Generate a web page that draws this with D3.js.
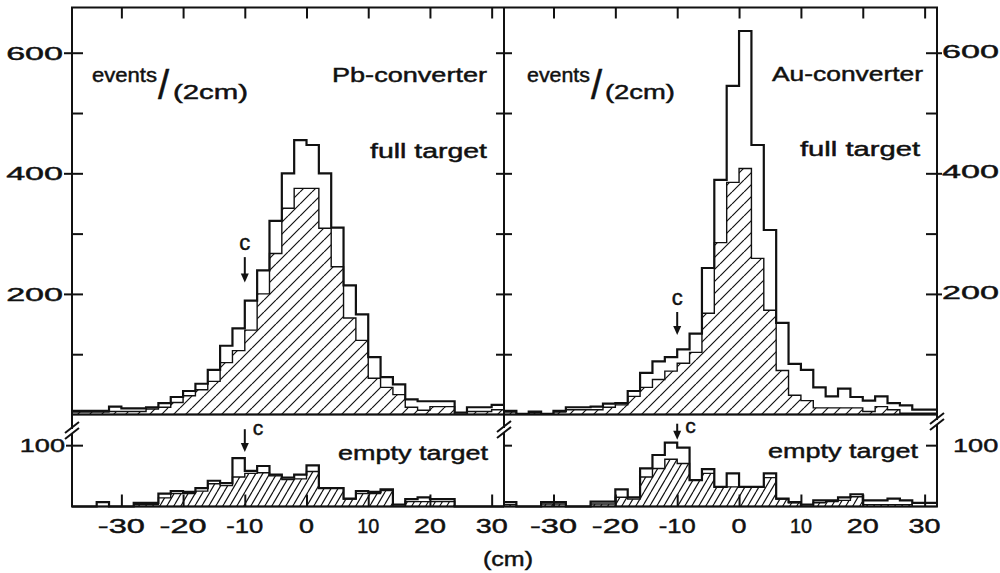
<!DOCTYPE html>
<html>
<head>
<meta charset="utf-8">
<title>Vertex distributions, Pb and Au converter</title>
<script src="https://d3js.org/d3.v7.min.js"></script>
<style>
  body { margin: 0; background: #fff; }
  svg { display: block; font-family: "Liberation Sans", Arial, sans-serif; }
  .frame { fill: none; stroke: #111; stroke-width: 2px; }
  .open { fill: none; stroke: #111; stroke-width: 2.2px; }
  .tick line { stroke: #111; stroke-width: 2px; }
  text { fill: #111; stroke: #111; stroke-width: 0.45px; }
</style>
</head>
<body>
<div id="chart"></div>
<script>
// 35 bins of 2 cm per panel, first bin starts at -38 cm
const binStart = -38;
const binWidth = 2;
const nBins = 35;
const xTicks = [-30, -20, -10, 0, 10, 20, 30];
const yTicksFull = [100, 200, 300, 400, 500, 600];
const yLabelsFull = [200, 400, 600];
const yTicksEmpty = [100];

// full target, Pb-converter (open outline and hatched part)
const pbFullOpen = [6, 6, 6, 13, 10, 10, 12, 19, 29, 39, 51, 74, 114, 143, 189, 239, 321, 400, 455, 447,
                    400, 310, 214, 166, 95, 62, 50, 25, 22, 22, 22, 3, 12, 12, 16];
const pbFullHatched = [4, 4, 4, 5, 5, 5, 9, 12, 20, 31, 41, 55, 86, 106, 140, 200, 267, 342, 375, 375,
                       309, 245, 160, 123, 60, 45, 33, 12, 7, 13, 13, 0, 5, 5, 8];
// full target, Au-converter
const auFullOpen = [6, 1, 5, 1, 6, 12, 12, 13, 18, 19, 39, 69, 88, 95, 108, 134, 243, 389, 545, 636,
                    447, 306, 152, 84, 74, 45, 30, 43, 29, 23, 30, 19, 15, 8, 8];
const auFullHatched = [4, 0, 3, 0, 4, 8, 8, 8, 12, 16, 30, 45, 58, 72, 85, 103, 168, 285, 385, 408,
                       259, 173, 73, 32, 23, 11, 11, 11, 11, 5, 13, 8, 2, 2, 2];
// empty target
const pbEmptyOpen = [0, 0, 7, 0, 0, 6, 6, 21, 25, 24, 30, 42, 38, 79, 58, 66, 52, 47, 52, 67,
                     30, 30, 13, 25, 24, 28, 3, 12, 15, 12, 12, 0, 0, 0, 0];
const pbEmptyHatched = [0, 0, 0, 0, 0, 3, 3, 14, 21, 21, 25, 37, 34, 48, 54, 55, 50, 44, 45, 57,
                        30, 30, 12, 21, 21, 26, 0, 8, 8, 8, 8, 0, 0, 0, 0];
const auEmptyOpen = [7, 0, 0, 7, 7, 0, 0, 8, 8, 28, 15, 62, 84, 104, 96, 43, 61, 32, 54, 32,
                     32, 54, 13, 7, 3, 10, 10, 15, 20, 10, 10, 13, 10, 6, 6];
const auEmptyHatched = [3, 0, 0, 4, 4, 0, 0, 4, 4, 15, 12, 48, 62, 77, 70, 43, 54, 32, 32, 32,
                        32, 47, 12, 6, 0, 6, 8, 10, 16, 3, 3, 3, 3, 0, 0];

const svg = d3.select("#chart").append("svg")
    .attr("width", 1000)
    .attr("height", 573);

// hatch patterns
const defs = svg.append("defs");
function hatch(id, w, h) {
    const p = defs.append("pattern").attr("id", id)
        .attr("patternUnits", "userSpaceOnUse")
        .attr("width", w).attr("height", h);
    p.append("rect").attr("width", w).attr("height", h).attr("fill", "#fff");
    p.append("path")
        .attr("d", `M0,${h}L${w},0M${-w},${h}L0,0M${w},${h}L${2 * w},0`)
        .attr("stroke", "#111").attr("stroke-width", 1.2);
}
hatch("hatchFull", 12, 12);
hatch("hatchEmpty", 7, 12);

const xDomain = [binStart, binStart + nBins * binWidth];
const xLeft = d3.scaleLinear().domain(xDomain).range([72, 504]);
const xRight = d3.scaleLinear().domain(xDomain).range([504, 937]);
const yFull = d3.scaleLinear().domain([0, 675]).range([414.5, 7.5]);
const yEmpty = d3.scaleLinear().domain([0, 150]).range([506.5, 414.5]);

function drawHist(x, y, open, hatched, fillId) {
    const edges = d3.range(nBins + 1).map(i => binStart + i * binWidth);
    const pts = vals => edges.map((e, i) => [e, vals[Math.min(i, vals.length - 1)]]);
    const area = d3.area().curve(d3.curveStepAfter)
        .x(d => x(d[0])).y0(y(0)).y1(d => y(d[1]));
    const line = d3.line().curve(d3.curveStepAfter)
        .x(d => x(d[0])).y(d => y(d[1]));
    svg.append("path").attr("d", area(pts(hatched)))
        .attr("fill", `url(#${fillId})`)
        .attr("stroke", "#111").attr("stroke-width", 1.4);
    svg.append("path").attr("d", line(pts(open))).attr("class", "open");
}

drawHist(xLeft, yFull, pbFullOpen, pbFullHatched, "hatchFull");
drawHist(xRight, yFull, auFullOpen, auFullHatched, "hatchFull");
drawHist(xLeft, yEmpty, pbEmptyOpen, pbEmptyHatched, "hatchEmpty");
drawHist(xRight, yEmpty, auEmptyOpen, auEmptyHatched, "hatchEmpty");

// frame
svg.append("rect").attr("class", "frame")
    .attr("x", 72).attr("y", 7.5).attr("width", 865).attr("height", 499);
svg.append("line").attr("class", "frame")
    .attr("x1", 504).attr("x2", 504).attr("y1", 7.5).attr("y2", 506.5);
svg.append("line").attr("class", "frame")
    .attr("x1", 72).attr("x2", 937).attr("y1", 414.5).attr("y2", 414.5);

// ticks
function axis(gen, tx, ty) {
    svg.append("g").attr("transform", `translate(${tx},${ty})`)
        .call(gen.tickFormat(""))
        .call(g => g.select(".domain").remove());
}
[xLeft, xRight].forEach(x => {
    axis(d3.axisBottom(x).tickValues(xTicks).tickSize(11), 0, 7.5);
    axis(d3.axisTop(x).tickValues(xTicks).tickSize(12), 0, 506.5);
});
axis(d3.axisRight(yFull).tickValues(yTicksFull).tickSize(11), 72, 0);
axis(d3.axisLeft(yFull).tickValues(yLabelsFull).tickSize(8), 72, 0);
axis(d3.axisRight(yFull).tickValues(yTicksFull).tickSize(8), 504, 0);
axis(d3.axisLeft(yFull).tickValues(yTicksFull).tickSize(8), 504, 0);
axis(d3.axisLeft(yFull).tickValues(yTicksFull).tickSize(11), 937, 0);
axis(d3.axisRight(yFull).tickValues(yLabelsFull).tickSize(5), 937, 0);
axis(d3.axisRight(yEmpty).tickValues(yTicksEmpty).tickSize(11), 72, 0);
axis(d3.axisLeft(yEmpty).tickValues(yTicksEmpty).tickSize(6), 72, 0);
axis(d3.axisRight(yEmpty).tickValues(yTicksEmpty).tickSize(8), 504, 0);
axis(d3.axisLeft(yEmpty).tickValues(yTicksEmpty).tickSize(11), 937, 0);

// axis breaks "//"
function brk(x, yc) {
    svg.append("rect").attr("x", x - 3).attr("y", yc - 3).attr("width", 6).attr("height", 4).attr("fill", "#fff");
    svg.append("path")
        .attr("d", `M${x - 7},${yc + 1}L${x + 7},${yc - 10}M${x - 7},${yc + 7}L${x + 7},${yc - 4}`)
        .attr("stroke", "#111").attr("stroke-width", 2).attr("fill", "none");
}
brk(72, 432);
brk(504, 431);
brk(937, 423);

// text helper, width forced to the scanned lettering
function txt(s, x, y, size, len, anchor) {
    const x0 = anchor === "end" ? x - len : anchor === "middle" ? x - len / 2 : x;
    return svg.append("text").text(s)
        .attr("x", x0).attr("y", y)
        .attr("font-size", size)
        .attr("textLength", len)
        .attr("lengthAdjust", "spacingAndGlyphs");
}
function numWidth(s) {
    let w = 0;
    for (const c of s) w += c === "-" ? 15 : c === "1" ? 7 : 17;
    return w - 2;
}

// x tick labels
[xLeft, xRight].forEach(x => {
    xTicks.forEach(t => txt(String(t), x(t), 533, 21, numWidth(String(t)), "middle"));
});
txt("(cm)", 508, 566, 21, 50, "middle");

// y tick labels
yLabelsFull.forEach(v => {
    txt(String(v), 63, yFull(v) + 7, 19, numWidth(String(v)) * 1.16, "end");
    txt(String(v), 942, yFull(v) + 5, 19, numWidth(String(v)) * 1.16, "start");
});
yTicksEmpty.forEach(v => {
    txt(String(v), 65, yEmpty(v) + 7, 19, numWidth(String(v)) * 1.16, "end");
    txt(String(v), 953, yEmpty(v) + 7, 19, numWidth(String(v)) * 1.16, "start");
});

// panel annotations
txt("events", 92, 82, 20, 65);
svg.append("text").text("/").attr("x", 158).attr("y", 99).attr("font-size", 40);
txt("(2cm)", 173, 99, 20, 75);
txt("Pb-converter", 487, 82, 20, 155, "end");
txt("full target", 487, 158, 20, 117, "end");

txt("events", 527, 82, 20, 63);
svg.append("text").text("/").attr("x", 591).attr("y", 99).attr("font-size", 40);
txt("(2cm)", 605, 99, 20, 70);
txt("Au-converter", 923, 81, 20, 151, "end");
txt("full target", 920, 156, 20, 120, "end");

txt("empty target", 488, 460, 20, 150, "end");
txt("empty target", 918, 458, 20, 150, "end");

// "c" arrows at -10 cm
function arrow(x, y, vTop, vTip) {
    const y0 = y(vTop), y1 = y(vTip);
    svg.append("path")
        .attr("d", `M${x},${y0}L${x},${y1 - 7}`)
        .attr("stroke", "#111").attr("stroke-width", 2);
    svg.append("path")
        .attr("d", `M${x - 4},${y1 - 9}L${x + 4},${y1 - 9}L${x},${y1}Z`)
        .attr("fill", "#111");
}
arrow(xLeft(-10), yFull, 261, 219);
svg.append("text").text("c").attr("x", xLeft(-10)).attr("y", 250)
    .attr("text-anchor", "middle").attr("font-size", 22);
arrow(xRight(-10), yFull, 170, 132);
svg.append("text").text("c").attr("x", xRight(-10)).attr("y", 305)
    .attr("text-anchor", "middle").attr("font-size", 22);
arrow(xLeft(-10), yEmpty, 126, 89);
svg.append("text").text("c").attr("x", xLeft(-10) + 8).attr("y", 435).attr("font-size", 21);
arrow(xRight(-10), yEmpty, 135, 109);
svg.append("text").text("c").attr("x", xRight(-10) + 8).attr("y", 433).attr("font-size", 21);
</script>
</body>
</html>
